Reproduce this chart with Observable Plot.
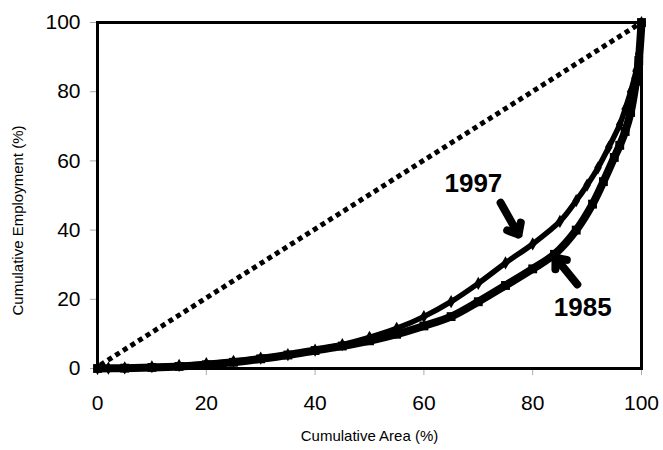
<!DOCTYPE html>
<html><head><meta charset="utf-8">
<script src="https://cdn.jsdelivr.net/npm/d3@7"></script>
<script src="https://cdn.jsdelivr.net/npm/@observablehq/plot@0.6"></script>
<style>body{margin:0;background:#fff}</style>
</head><body><div id="chart"></div>
<script>
const area1997 = [0,2,5,10,15,20,25,30,35,40,45,50,55,60,65,70,75,80,85,88,90,92,94,96,97,98,99,99.5,100];
const emp1997  = [0,0.1,0.2,0.5,0.9,1.4,2.1,3.0,4.0,5.3,6.9,9.0,11.6,15.0,19.3,24.6,30.5,36,42.5,48.5,53,58,64,70.5,75,80,86,91,100];
const area1985 = [0,5,10,15,20,25,30,35,40,45,50,55,60,65,70,75,80,84,88,91,93,95,96,97,98,99,99.5,100];
const emp1985  = [0,0.1,0.3,0.6,1.1,1.8,2.8,3.9,5.2,6.5,8.0,9.9,12.3,15.0,19.3,24.0,28.8,33,40,47.5,54,61,64.5,68.5,74,83,89,100];
const diagX = [0.5,100];
const diagY = [1,100];
const labelText = ["1997","1985"];
const labelX = [69.1,89.2];
const labelY = [53.3,17.7];
const arrowFromX = [74.1,88.2];
const arrowFromY = [47.9,24.3];
const arrowToX = [77.4,84.2];
const arrowToY = [38.7,32];
const xTicks = [0,20,40,60,80,100];
const yTicks = [0,20,40,60,80,100];
const xTitle = "Cumulative Area (%)";
const yTitle = "Cumulative Employment (%)";

const d1997 = area1997.map((x,i)=>({x, y: emp1997[i]}));
const d1985 = area1985.map((x,i)=>({x, y: emp1985[i]}));
const diag = diagX.map((x,i)=>({x, y: diagY[i]}));
const labels = labelText.map((t,i)=>({t, x: labelX[i], y: labelY[i]}));
const arrows = arrowFromX.map((x1,i)=>({x1, y1: arrowFromY[i], x2: arrowToX[i], y2: arrowToY[i]}));

const font = "Arial, 'Liberation Sans', sans-serif";
const chart = Plot.plot({
  width: 663, height: 450,
  marginLeft: 97, marginRight: 22, marginTop: 22, marginBottom: 82,
  style: {fontFamily: font, background: "#fff", color: "#000", overflow: "visible"},
  x: {domain: [0,100]},
  y: {domain: [0,100]},
  marks: [
    Plot.axisX({ticks: xTicks, tickSize: 7, tickPadding: 20, stroke: "#aaa", fill: "#000", fontSize: 21, label: null}),
    Plot.axisY({ticks: yTicks, tickSize: 7, tickPadding: 10, stroke: "#aaa", fill: "#000", fontSize: 21, label: null}),
    Plot.line(diag, {x: "x", y: "y", stroke: "#000", strokeWidth: 5, strokeDasharray: "5,4", strokeLinecap: "butt"}),
    Plot.line(d1985, {x: "x", y: "y", stroke: "#000", strokeWidth: 8, curve: "catmull-rom"}),
    Plot.dot(d1985, {x: "x", y: "y", symbol: "square", r: 5, fill: "#000"}),
    Plot.line(d1997, {x: "x", y: "y", stroke: "#000", strokeWidth: 5.5, curve: "catmull-rom"}),
    Plot.dot(d1997, {x: "x", y: "y", symbol: "diamond", r: 4, fill: "#000"}),
    Plot.arrow(arrows, {x1: "x1", y1: "y1", x2: "x2", y2: "y2", stroke: "#000", strokeWidth: 8, headLength: 10, headAngle: 80}),
    Plot.text(labels, {x: "x", y: "y", text: "t", fontSize: 26, fontWeight: "bold", fill: "#000"}),
    Plot.frame({stroke: "#000", strokeWidth: 3}),
    Plot.text([xTitle], {frameAnchor: "bottom", text: d => d, dy: 72, fontSize: 15, fill: "#000"}),
    Plot.text([yTitle], {frameAnchor: "left", textAnchor: "middle", text: d => d, rotate: -90, dx: -79, dy: 25, fontSize: 15, fill: "#000"})
  ]
});
document.getElementById("chart").append(chart);
</script>
</body></html>
